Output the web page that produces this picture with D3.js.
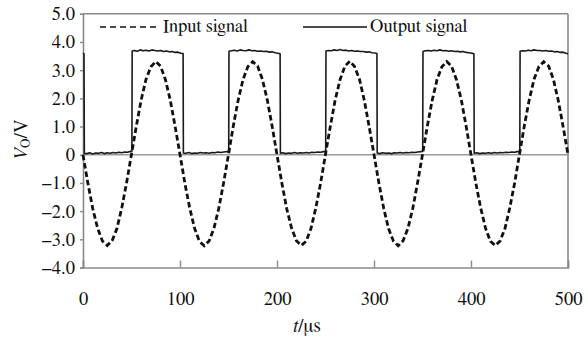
<!DOCTYPE html>
<html><head><meta charset="utf-8">
<script src="https://cdn.jsdelivr.net/npm/d3@7"></script>
<style>body{margin:0;background:#fff} svg text{font-family:FreeSerif,"Liberation Serif","Times New Roman",serif;}</style></head>
<body>
<svg id="c" width="588" height="339"></svg>
<script>
// ---- data ----
const xTicks = [0, 100, 200, 300, 400, 500];
const xTickLabels = ["0", "100", "200", "300", "400", "500"];
const yTicks = [-4, -3, -2, -1, 0, 1, 2, 3, 4, 5];
const yTickLabels = ["\u22124.0", "\u22123.0", "\u22122.0", "\u22121.0", "0", "1.0", "2.0", "3.0", "4.0", "5.0"];
const seriesNames = ["Input signal", "Output signal"];

// input signal, sampled every 5 µs from t = 0 to 500
const inputStep = 5;
const inputV = [
  0.00, -1.00, -1.90, -2.60, -3.06, -3.22, -3.05, -2.62, -1.88, -0.98, 0.02, 1.02, 1.95, 2.68, 3.12, 3.31, 3.14, 2.66, 1.93, 1.00,
  0.01, -1.01, -1.89, -2.61, -3.07, -3.23, -3.06, -2.61, -1.90, -0.99, 0.01, 1.03, 1.94, 2.67, 3.13, 3.30, 3.15, 2.67, 1.94, 1.01,
  0.00, -1.00, -1.91, -2.60, -3.05, -3.22, -3.07, -2.62, -1.89, -1.00, 0.02, 1.01, 1.95, 2.66, 3.14, 3.32, 3.13, 2.68, 1.93, 1.00,
  0.01, -0.99, -1.90, -2.62, -3.06, -3.23, -3.05, -2.61, -1.90, -0.98, 0.01, 1.02, 1.93, 2.67, 3.12, 3.31, 3.14, 2.66, 1.95, 1.01,
  0.00, -1.01, -1.89, -2.61, -3.07, -3.22, -3.06, -2.62, -1.88, -1.00, 0.02, 1.03, 1.94, 2.68, 3.13, 3.30, 3.15, 2.67, 1.92, 0.99,
  0.00
];

// output signal [t (µs), V]
const outputPts = [
  [0,3.60],[1,3.58],[1.4,0.05],[4,0.04],[7,0.07],[10,0.03],[13,0.06],[16,0.05],[19,0.08],[22,0.04],[25,0.07],[28,0.05],[31,0.08],[34,0.06],[37,0.09],[40,0.07],[43,0.10],[46,0.09],[49,0.12],[50.4,0.12],
  [50.7,3.68],[53,3.70],[56,3.67],[59,3.72],[62,3.69],[65,3.71],[68,3.68],[71,3.72],[74,3.70],[77,3.68],[80,3.70],[83,3.66],[86,3.68],[89,3.65],[92,3.66],[95,3.63],[98,3.64],[101,3.60],[103.2,3.59],
  [103.5,0.06],[106,0.05],[109,0.08],[112,0.04],[115,0.06],[118,0.05],[121,0.08],[124,0.06],[127,0.07],[130,0.05],[133,0.08],[136,0.07],[139,0.10],[142,0.08],[145,0.10],[148,0.11],[150.2,0.12],
  [150.5,3.67],[153,3.69],[156,3.71],[159,3.68],[162,3.72],[165,3.70],[168,3.69],[171,3.72],[174,3.69],[177,3.70],[180,3.67],[183,3.68],[186,3.66],[189,3.67],[192,3.64],[195,3.65],[198,3.62],[201,3.60],[203.2,3.58],
  [203.5,0.05],[206,0.07],[209,0.04],[212,0.06],[215,0.05],[218,0.08],[221,0.05],[224,0.07],[227,0.06],[230,0.08],[233,0.06],[236,0.09],[239,0.08],[242,0.10],[245,0.09],[248,0.11],[250.2,0.12],
  [250.5,3.68],[253,3.70],[256,3.69],[259,3.72],[262,3.70],[265,3.73],[268,3.70],[271,3.71],[274,3.68],[277,3.70],[280,3.67],[283,3.68],[286,3.66],[289,3.66],[292,3.64],[295,3.65],[298,3.62],[301,3.61],[303.0,3.59],
  [303.3,0.06],[306,0.04],[309,0.07],[312,0.05],[315,0.06],[318,0.04],[321,0.07],[324,0.06],[327,0.08],[330,0.06],[333,0.08],[336,0.07],[339,0.09],[342,0.08],[345,0.10],[348,0.11],[350.2,0.12],
  [350.5,3.66],[353,3.69],[356,3.70],[359,3.68],[362,3.71],[365,3.69],[368,3.72],[371,3.69],[374,3.70],[377,3.67],[380,3.69],[383,3.66],[386,3.67],[389,3.65],[392,3.66],[395,3.63],[398,3.62],[401,3.60],[403.0,3.58],
  [403.3,0.05],[406,0.07],[409,0.04],[412,0.06],[415,0.05],[418,0.07],[421,0.05],[424,0.08],[427,0.06],[430,0.08],[433,0.07],[436,0.09],[439,0.08],[442,0.10],[445,0.09],[448,0.11],[450.3,0.12],
  [450.6,3.67],[453,3.69],[456,3.68],[459,3.71],[462,3.69],[465,3.72],[468,3.70],[471,3.70],[474,3.68],[477,3.70],[480,3.67],[483,3.68],[486,3.65],[489,3.66],[492,3.63],[495,3.64],[498,3.60],[500,3.58]
];

// ---- chart ----
const svg = d3.select("#c");
const L = 83, R = 568, T = 13.8, B = 267.5;
const x = d3.scaleLinear().domain([0, 500]).range([L, R]);
const y = d3.scaleLinear().domain([-4, 5]).range([B, T]);
const gray = "#8a8a8a";
const txt = "#111";
const fs = "18.5px";

// zero line
svg.append("line").attr("x1", x(0)).attr("x2", x(500)).attr("y1", y(0)).attr("y2", y(0))
  .attr("stroke", "#999").attr("stroke-width", 1.6);

// y axis
const yAxis = d3.axisLeft(y).tickValues(yTicks).tickSize(3).tickPadding(5)
  .tickFormat((d, i) => yTickLabels[i]);
const gy = svg.append("g").attr("transform", `translate(${L},0)`).call(yAxis).attr("font-family", null).attr("font-size", null);
gy.select(".domain").attr("stroke", gray).attr("stroke-width", 1.6);
gy.selectAll(".tick line").attr("stroke", gray).attr("stroke-width", 1.4);
gy.selectAll(".tick text").style("font-size", fs).attr("fill", txt);

// x axis (ticks pointing inward)
const xAxis = d3.axisBottom(x).tickValues(xTicks).tickSize(-7).tickPadding(24)
  .tickFormat((d, i) => xTickLabels[i]);
const gx = svg.append("g").attr("transform", `translate(0,${B})`).call(xAxis).attr("font-family", null).attr("font-size", null);
gx.select(".domain").attr("stroke", gray).attr("stroke-width", 1.6);
gx.selectAll(".tick line").attr("stroke", gray).attr("stroke-width", 1.4);
gx.selectAll(".tick text").style("font-size", fs).attr("fill", txt);

// top & right frame
svg.append("line").attr("x1", L).attr("x2", R).attr("y1", T).attr("y2", T).attr("stroke", gray).attr("stroke-width", 1.6);
svg.append("line").attr("x1", R).attr("x2", R).attr("y1", T).attr("y2", B).attr("stroke", gray).attr("stroke-width", 1.6);

// output line
svg.append("path").datum(outputPts)
  .attr("d", d3.line().x(d => x(d[0])).y(d => y(d[1])))
  .attr("fill", "none").attr("stroke", "#1a1a1a").attr("stroke-width", 1.6).attr("stroke-linejoin", "round");

// input line
const inputPts = inputV.map((v, i) => [i * inputStep, v]);
svg.append("path").datum(inputPts)
  .attr("d", d3.line().x(d => x(d[0])).y(d => y(d[1])))
  .attr("fill", "none").attr("stroke", "#111").attr("stroke-width", 2.8)
  .attr("stroke-dasharray", "5.5,3");

// legend
const legY = 27;
svg.append("line").attr("x1", 100).attr("x2", 158).attr("y1", legY).attr("y2", legY)
  .attr("stroke", "#111").attr("stroke-width", 1.6).attr("stroke-dasharray", "6,4");
svg.append("text").attr("x", 163).attr("y", legY + 5).text(seriesNames[0])
  .style("font-size", fs).attr("fill", txt);
svg.append("line").attr("x1", 303).attr("x2", 367).attr("y1", legY).attr("y2", legY)
  .attr("stroke", "#111").attr("stroke-width", 1.4);
svg.append("text").attr("x", 370).attr("y", legY + 5).text(seriesNames[1])
  .style("font-size", fs).attr("fill", txt);

// axis titles
const xt = svg.append("text").attr("x", 307).attr("y", 332).attr("text-anchor", "middle")
  .style("font-size", "19px").attr("fill", txt);
xt.append("tspan").attr("font-style", "italic").text("t");
xt.append("tspan").text("/\u03bcs");

const yt = svg.append("text").attr("transform", "translate(27,140) rotate(-90)").attr("text-anchor", "middle")
  .style("font-size", "19px").attr("fill", txt);
yt.append("tspan").attr("font-style", "italic").text("V");
yt.append("tspan").style("font-size", "13px").attr("dy", 3).text("O");
yt.append("tspan").attr("dy", -3).text("/V");
</script>
</body></html>
